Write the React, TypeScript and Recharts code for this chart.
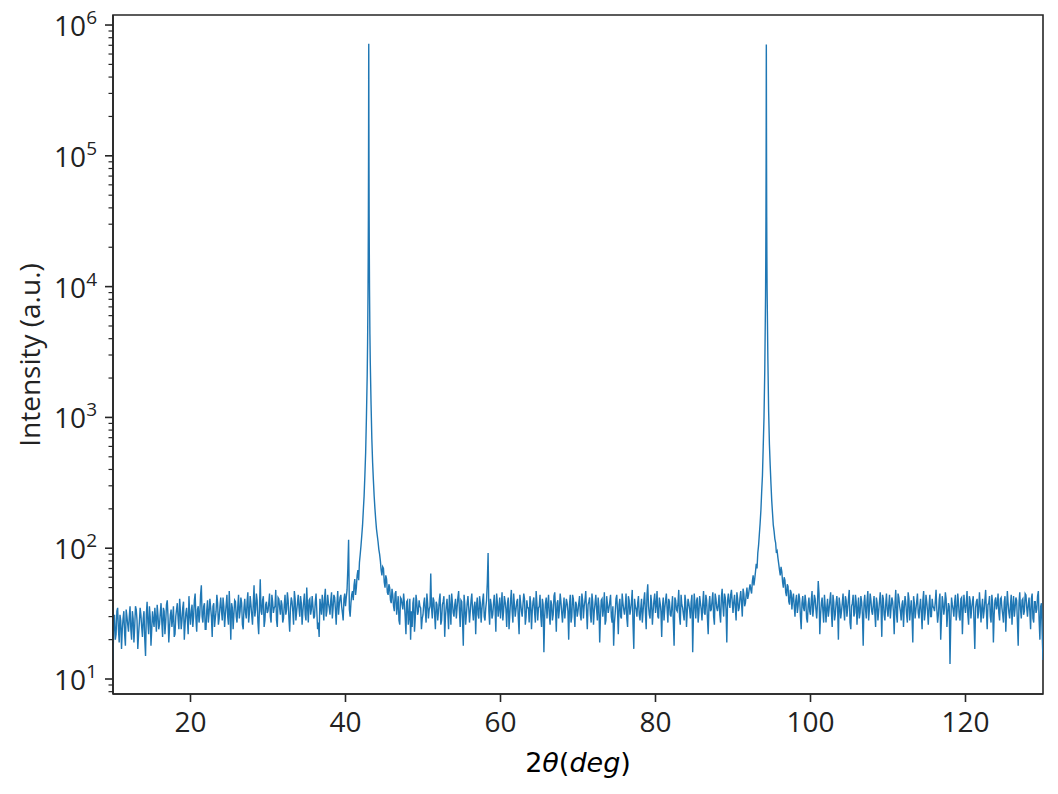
import { LineChart, Line, XAxis, YAxis, ReferenceArea, Label } from "recharts";

// step scan, 2θ from 10° to 130°: even points on 10.0, 10.2, … and odd points on 10.1, 10.3, …
const scanStart = 10;
const scanStep = 0.2;
const midStart = 10.1;

// 10.0 – 29.8°
const counts10 = [
  14, 31, 22, 35, 19, 28, 24, 33, 18, 30,
  23, 36, 20, 29, 25, 34, 17, 27, 31, 21,
  33, 15, 39, 22, 30, 24, 28, 35, 23, 31,
  26, 38, 21, 33, 27, 40, 19, 31, 25, 36,
  22, 34, 29, 41, 24, 35, 20, 32, 28, 43,
  26, 37, 30, 45, 23, 36, 31, 52, 27, 38,
  24, 40, 32, 35, 21, 38, 29, 44, 26, 36,
  33, 42, 25, 37, 30, 47, 20, 35, 31, 39,
  27, 44, 33, 38, 24, 41, 29, 46, 32, 37,
  26, 52, 34, 40, 22, 58, 31, 43, 28, 39,
];

// 30.0 – 49.8°
const counts30 = [
  33, 45, 27, 39, 35, 48, 25, 41, 31, 37,
  29, 44, 34, 40, 23, 42, 33, 47, 28, 38,
  35, 43, 26, 39, 31, 50, 27, 41, 34, 36,
  30, 45, 24, 21, 36, 44, 28, 49, 33, 38,
  31, 46, 35, 42, 26, 47, 37, 44, 32, 41,
  36, 48, 116, 30, 44, 40, 58, 50, 68, 78,
  105, 150, 250, 540, 2100, 720000, 2600, 680, 330, 200,
  140, 112, 90, 68, 72, 55, 62, 46, 53, 40,
  49, 36, 45, 31, 43, 26, 41, 34, 38, 22,
  40, 30, 20, 25, 42, 29, 39, 33, 36, 24,
];

// 50.0 – 69.8°
const counts50 = [
  31, 42, 27, 38, 34, 64, 29, 40, 24, 37,
  33, 45, 28, 39, 21, 36, 32, 44, 26, 38,
  30, 41, 35, 47, 25, 39, 18, 37, 31, 43,
  27, 40, 33, 36, 22, 42, 29, 38, 34, 45,
  28, 40, 92, 26, 37, 31, 44, 23, 38, 35,
  29, 46, 33, 39, 25, 42, 31, 48, 27, 37,
  34, 41, 22, 38, 30, 45, 26, 40, 35, 43,
  24, 39, 32, 47, 28, 36, 30, 41, 16, 38,
  29, 44, 26, 37, 31, 46, 23, 40, 34, 39,
  27, 42, 35, 38, 20, 44, 30, 41, 25, 37,
];

// 70.0 – 89.8°
const counts70 = [
  33, 43, 28, 40, 36, 47, 24, 39, 31, 45,
  26, 38, 34, 42, 19, 40, 30, 46, 28, 37,
  35, 44, 27, 18, 32, 44, 22, 41, 29, 38,
  31, 45, 25, 40, 34, 48, 17, 36, 30, 43,
  28, 41, 33, 46, 24, 53, 31, 44, 26, 40,
  32, 47, 29, 38, 21, 42, 35, 45, 27, 39,
  30, 43, 18, 40, 33, 48, 26, 37, 31, 44,
  25, 41, 34, 39, 16, 45, 29, 42, 32, 38,
  28, 47, 31, 40, 22, 43, 34, 46, 26, 41,
  33, 44, 27, 49, 30, 42, 19, 45, 35, 48,
];

// 90.0 – 109.8°
const counts90 = [
  32, 44, 28, 41, 35, 47, 30, 45, 38, 50,
  44, 53, 45, 62, 58, 76, 92, 128, 195, 360,
  1000, 8400, 9500, 1100, 430, 230, 150, 118, 92, 84,
  68, 72, 55, 60, 46, 53, 39, 48, 34, 45,
  30, 44, 36, 41, 24, 43, 33, 39, 27, 42,
  31, 47, 35, 41, 29, 56, 22, 38, 33, 44,
  27, 41, 34, 46, 25, 39, 31, 43, 20, 37,
  33, 45, 28, 40, 35, 48, 24, 38, 30, 44,
  26, 42, 32, 39, 18, 44, 29, 47, 34, 40,
  31, 43, 25, 38, 33, 46, 21, 41, 28, 45,
];

// 110.0 – 130.0°
const counts110 = [
  30, 44, 35, 39, 22, 48, 27, 42, 33, 37,
  25, 43, 31, 46, 28, 40, 19, 38, 34, 45,
  29, 41, 24, 47, 32, 39, 26, 44, 30, 36,
  33, 48, 27, 40, 20, 43, 31, 46, 25, 38,
  13, 42, 34, 39, 28, 45, 30, 41, 22, 44,
  32, 47, 26, 40, 35, 43, 17, 39, 29, 46,
  27, 41, 33, 48, 24, 38, 30, 44, 19, 40,
  34, 45, 28, 42, 31, 39, 23, 47, 32, 37,
  26, 43, 35, 40, 18, 46, 29, 41, 33, 44,
  30, 42, 24, 45, 27, 39, 34, 47, 20, 38,
  14,
];

// 10.1 – 29.9°
const mid10 = [
  27, 20, 33, 24, 31, 17, 29, 22, 34, 26,
  30, 24, 33, 19, 36, 28, 22, 35, 25, 29,
  20, 31, 27, 36, 18, 33, 25, 29, 37, 24,
  32, 27, 35, 22, 37, 30, 25, 34, 29, 21,
  30, 38, 24, 33, 28, 39, 26, 35, 22, 31,
  33, 25, 40, 29, 34, 27, 44, 30, 36, 24,
  34, 27, 41, 30, 36, 25, 33, 38, 29, 42,
  28, 36, 31, 44, 26, 33, 38, 24, 40, 30,
  36, 29, 42, 26, 35, 32, 39, 27, 43, 31,
  38, 30, 45, 27, 36, 33, 40, 25, 37, 32,
];

// 30.1 – 49.9°
const mid30 = [
  38, 30, 44, 32, 36, 28, 42, 35, 40, 27,
  37, 31, 46, 29, 35, 39, 26, 41, 33, 44,
  30, 38, 33, 45, 28, 36, 40, 31, 43, 29,
  39, 33, 27, 41, 31, 37, 42, 30, 44, 35,
  40, 29, 44, 34, 38, 31, 42, 36, 28, 45,
  42, 70, 34, 38, 47, 52, 44, 62, 57, 90,
  125, 195, 360, 1000, 8300, 9500, 1250, 450, 250, 165,
  125, 98, 80, 62, 70, 50, 58, 44, 50, 38,
  44, 33, 47, 36, 28, 42, 37, 45, 30, 39,
  26, 41, 33, 38, 23, 44, 31, 40, 35, 29,
];

// 50.1 – 69.9°
const mid50 = [
  38, 33, 45, 29, 36, 35, 42, 31, 39, 28,
  40, 26, 37, 43, 30, 41, 24, 36, 45, 32,
  37, 29, 42, 33, 40, 28, 44, 26, 38, 35,
  33, 45, 28, 39, 36, 31, 43, 27, 40, 30,
  35, 55, 33, 41, 29, 38, 34, 45, 30, 42,
  36, 28, 43, 34, 38, 24, 40, 33, 45, 30,
  39, 29, 44, 33, 37, 41, 30, 35, 27, 38,
  33, 42, 27, 38, 35, 44, 25, 37, 30, 42,
  37, 31, 40, 28, 43, 34, 38, 29, 45, 32,
  35, 29, 41, 33, 37, 27, 44, 32, 39, 30,
];

// 70.1 – 89.9°
const mid70 = [
  38, 31, 45, 29, 40, 33, 37, 42, 27, 39,
  33, 44, 28, 36, 30, 41, 35, 26, 43, 32,
  39, 30, 36, 27, 41, 33, 37, 30, 45, 34,
  36, 29, 43, 31, 39, 26, 41, 34, 38, 31,
  35, 27, 40, 32, 44, 36, 29, 38, 33, 45,
  37, 30, 42, 33, 36, 28, 40, 34, 41, 31,
  36, 27, 42, 34, 38, 30, 44, 35, 28, 39,
  33, 38, 29, 44, 31, 36, 40, 27, 43, 34,
  38, 32, 44, 29, 37, 33, 40, 30, 45, 35,
  37, 31, 42, 36, 45, 34, 40, 38, 44, 39,
];

// 90.1 – 109.9°
const mid90 = [
  39, 35, 46, 33, 42, 38, 49, 36, 44, 41,
  49, 48, 56, 52, 66, 70, 105, 155, 270, 600,
  2300, 710000, 2800, 620, 310, 185, 135, 110, 95, 76,
  62, 66, 50, 57, 43, 51, 37, 46, 41, 36,
  40, 32, 45, 30, 38, 35, 44, 29, 37, 33,
  40, 30, 44, 34, 38, 45, 31, 42, 27, 36,
  35, 30, 40, 32, 44, 28, 38, 35, 42, 29,
  38, 34, 43, 30, 41, 27, 36, 44, 32, 39,
  35, 29, 43, 31, 38, 34, 40, 28, 45, 33,
  37, 32, 42, 28, 39, 35, 44, 31, 37, 34,
];

// 110.1 – 129.9°
const mid110 = [
  37, 29, 42, 33, 38, 31, 45, 36, 28, 40,
  35, 38, 27, 41, 34, 30, 43, 29, 39, 32,
  36, 32, 40, 28, 44, 33, 37, 30, 41, 35,
  39, 34, 31, 45, 29, 38, 35, 41, 32, 36,
  27, 37, 30, 44, 33, 38, 28, 42, 34, 36,
  38, 31, 43, 29, 39, 27, 35, 41, 33, 37,
  35, 29, 40, 33, 37, 43, 27, 38, 31, 42,
  37, 32, 41, 35, 27, 43, 34, 38, 29, 44,
  36, 30, 42, 27, 38, 34, 40, 31, 45, 35,
  37, 33, 41, 29, 39, 32, 43, 28, 36, 22,
];

// finer sampling across the tops of the two reflections
const peak1Theta = [42.85, 42.93, 42.95, 42.97, 42.98, 42.99, 42.995, 43.005, 43.01, 43.02, 43.03, 43.05, 43.07, 43.15];
const peak1Counts = [3700, 16700, 32000, 82000, 161000, 382000, 580000, 600000, 400000, 175000, 90000, 36000, 19000, 4300];
const peak2Theta = [94.23, 94.25, 94.27, 94.28, 94.29, 94.295, 94.305, 94.31, 94.32, 94.33, 94.35, 94.37];
const peak2Counts = [17000, 32500, 83000, 164000, 388000, 590000, 600000, 400000, 170000, 88000, 34000, 18000];

const xTicks = [20, 40, 60, 80, 100, 120];
const yMajor = [10, 100, 1000, 10000, 100000, 1000000];
const minorSteps = [2, 3, 4, 5, 6, 7, 8, 9];
const yMinor = [8, 9, ...yMajor.slice(0, 5).flatMap((d) => minorSteps.map((m) => m * d))];

const counts = [...counts10, ...counts30, ...counts50, ...counts70, ...counts90, ...counts110];
const midCounts = [...mid10, ...mid30, ...mid50, ...mid70, ...mid90, ...mid110];
const at = (start: number, i: number) => Math.round((start + i * scanStep) * 1000) / 1000;
const data = [
  ...counts.map((c, i) => ({ x: at(scanStart, i), y: c })),
  ...midCounts.map((c, i) => ({ x: at(midStart, i), y: c })),
  ...peak1Theta.map((t, i) => ({ x: t, y: peak1Counts[i] })),
  ...peak2Theta.map((t, i) => ({ x: t, y: peak2Counts[i] })),
].sort((a, b) => a.x - b.x);

const INK = "#262626";
const TEXT = "#222";
const FONT = "'Open Sans', sans-serif";

function XTick({ x, y, payload }: any) {
  return (
    <g>
      <line x1={x} x2={x} y1={y} y2={y + 8} stroke={INK} strokeWidth={1.6} />
      <text x={x} y={y + 38} textAnchor="middle" fontFamily={FONT} fontSize={28} fill={TEXT}>
        {payload.value}
      </text>
    </g>
  );
}

function YTick({ x, y, payload }: any) {
  const v = payload.value;
  const exp = Math.round(Math.log10(v));
  const major = Math.abs(v - 10 ** exp) < 1e-6 * v;
  return (
    <g>
      <line x1={x - (major ? 8 : 4.5)} x2={x} y1={y} y2={y} stroke={INK} strokeWidth={major ? 1.6 : 1.2} />
      {major && (
        <text x={x - 16} y={y + 11} textAnchor="end" fontFamily={FONT} fontSize={28} fill={TEXT}>
          <tspan>10</tspan>
          <tspan dy={-12} fontSize={19}>{exp}</tspan>
        </text>
      )}
    </g>
  );
}

export default function App() {
  return (
    <div>
      <style>{`body{margin:0}`}</style>
      <LineChart width={1058} height={794} data={data} margin={{ top: 15, right: 15, left: 13, bottom: 20 }}>
        <XAxis
          dataKey="x"
          type="number"
          domain={[10, 130]}
          allowDataOverflow
          ticks={xTicks}
          interval={0}
          tick={<XTick />}
          tickLine={false}
          tickSize={0}
          tickMargin={0}
          height={80}
          axisLine={{ stroke: INK, strokeWidth: 1.6 }}
        >
          <Label
            content={() => (
              <text x={578} y={772} textAnchor="middle" fontFamily="'DejaVu Sans', sans-serif" fontSize={27} fill="#000">
                <tspan>2</tspan>
                <tspan fontStyle="italic">θ</tspan>
                <tspan>(</tspan>
                <tspan fontStyle="italic">deg</tspan>
                <tspan>)</tspan>
              </text>
            )}
          />
        </XAxis>
        <YAxis
          type="number"
          scale="log"
          domain={[7.68, 1193000]}
          allowDataOverflow
          ticks={[...yMajor, ...yMinor].sort((a, b) => a - b)}
          interval={0}
          tick={<YTick />}
          tickLine={false}
          tickSize={0}
          tickMargin={0}
          width={100}
          axisLine={{ stroke: INK, strokeWidth: 1.6 }}
        >
          <Label
            content={() => (
              <text
                x={40}
                y={355}
                transform="rotate(-90, 40, 355)"
                textAnchor="middle"
                fontFamily={FONT}
                fontSize={28}
                fill={TEXT}
              >
                Intensity (a.u.)
              </text>
            )}
          />
        </YAxis>
        <ReferenceArea x1={10} x2={130} y1={7.68} y2={1193000} fill="none" stroke={INK} strokeWidth={1.6} ifOverflow="visible" />
        <Line
          type="linear"
          dataKey="y"
          stroke="#1f77b4"
          strokeWidth={1.4}
          dot={false}
          isAnimationActive={false}
        />
      </LineChart>
    </div>
  );
}
